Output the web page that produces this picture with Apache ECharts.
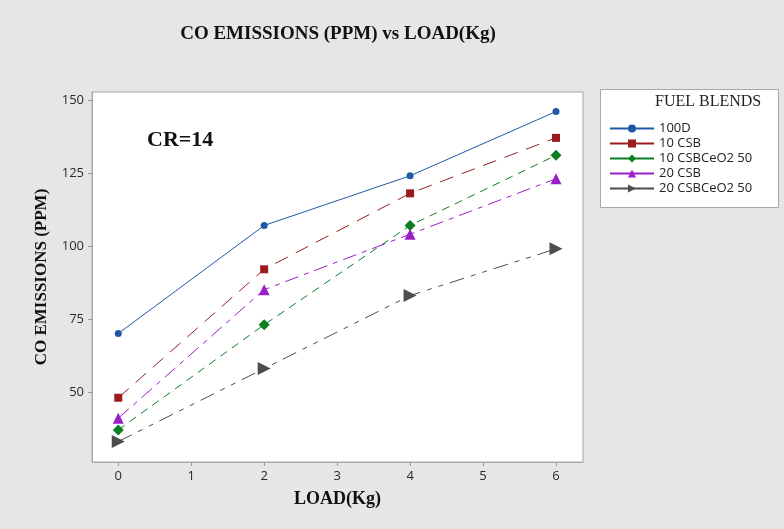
<!DOCTYPE html>
<html>
<head>
<meta charset="utf-8">
<script src="https://cdn.jsdelivr.net/npm/echarts@6/dist/echarts.min.js"></script>
<style>
  html, body { margin: 0; padding: 0; background: #e6e6e6; }
  #chart { width: 784px; height: 529px; }
</style>
</head>
<body>
<div id="chart"></div>
<script>
// Load in kg
const loads = [0, 2, 4, 6];
const xTicks = [0, 1, 2, 3, 4, 5, 6];
const yTicks = [50, 75, 100, 125, 150];

// CO emissions (PPM) per fuel blend
const seriesNames = ['100D', '10 CSB', '10 CSBCeO2 50', '20 CSB', '20 CSBCeO2 50'];
const co100D = [70, 107, 124, 146];
const co10CSB = [48, 92, 118, 137];
const co10CSBCeO2 = [37, 73, 107, 131];
const co20CSB = [41, 85, 104, 123];
const co20CSBCeO2 = [33, 58, 83, 99];

const serif = '"Liberation Serif", "DejaVu Serif", serif';
const sans = '"Open Sans", "Noto Sans", "DejaVu Sans", sans-serif';

function pairs(vals) { return loads.map((x, i) => [x, vals[i]]); }

const styles = [
  { color: '#1f5aa6', symbol: 'circle', size: 7, dash: 'solid', rot: 0 },
  { color: '#9b1c1c', symbol: 'rect', size: 8, dash: [14, 9], rot: 0 },
  { color: '#0c7f22', symbol: 'diamond', size: 11, dash: [8, 6], rot: 0 },
  { color: '#9b1fc8', symbol: 'triangle', size: 11, dash: [14, 6, 5, 6], rot: 0 },
  { color: '#4d4d4d', symbol: 'triangle', size: 13, dash: [15, 7, 5, 7, 5, 7], rot: -90 }
];
const values = [co100D, co10CSB, co10CSBCeO2, co20CSB, co20CSBCeO2];

const chart = echarts.init(document.getElementById('chart'), null, { renderer: 'canvas' });

const axisText = { fontFamily: sans, fontSize: 13, color: '#2a2a2a' };
const nameText = { fontFamily: serif, fontWeight: 'bold', color: '#111' };
const frameLine = { show: true, onZero: false, lineStyle: { color: '#a8a8a8', width: 1 } };

chart.setOption({
  backgroundColor: '#e6e6e6',
  animation: false,
  title: {
    text: 'CO EMISSIONS (PPM) vs LOAD(Kg)',
    left: 333, top: 20, textAlign: 'center',
    textStyle: Object.assign({ fontSize: 19 }, nameText)
  },
  grid: {
    left: 92, top: 92, right: 201, bottom: 67,
    show: true, backgroundColor: '#ffffff', borderColor: '#a8a8a8', borderWidth: 1
  },
  xAxis: {
    type: 'value', min: -0.36, max: 6.37,
    name: 'LOAD(Kg)', nameLocation: 'middle', nameGap: 28,
    nameTextStyle: Object.assign({ fontSize: 18 }, nameText),
    axisLine: frameLine,
    splitLine: { show: false },
    axisTick: { show: true, customValues: xTicks, length: 4, lineStyle: { color: '#999' } },
    axisLabel: Object.assign({ customValues: xTicks, margin: 8 }, axisText)
  },
  yAxis: {
    type: 'value', min: 26, max: 152.7,
    name: 'CO EMISSIONS (PPM)', nameLocation: 'middle', nameGap: 42, nameRotate: 90,
    nameTextStyle: Object.assign({ fontSize: 17 }, nameText),
    axisLine: frameLine,
    splitLine: { show: false },
    axisTick: { show: true, customValues: yTicks, length: 4, lineStyle: { color: '#999' } },
    axisLabel: Object.assign({ customValues: yTicks, margin: 8 }, axisText)
  },
  legend: {
    orient: 'vertical', left: 604, top: 117,
    itemWidth: 44, itemHeight: 10, itemGap: 2,
    lineStyle: { type: 'solid' },
    textStyle: { fontFamily: sans, fontSize: 13, lineHeight: 13, color: '#222' },
    data: seriesNames
  },
  graphic: [
    {
      type: 'rect', left: 600, top: 89, z: -1,
      shape: { width: 178, height: 118 },
      style: { fill: '#ffffff', stroke: '#a8a8a8', lineWidth: 1 }
    },
    {
      type: 'text', left: 655, top: 94,
      style: { text: 'FUEL BLENDS', font: '16px ' + serif, fill: '#222' }
    },
    {
      type: 'text', left: 147, top: 129,
      style: { text: 'CR=14', font: 'bold 22px ' + serif, fill: '#111' }
    }
  ],
  series: seriesNames.map((name, i) => ({
    name: name,
    type: 'line',
    data: pairs(values[i]),
    symbol: styles[i].symbol,
    symbolSize: styles[i].size,
    symbolRotate: styles[i].rot,
    itemStyle: { color: styles[i].color },
    lineStyle: { color: styles[i].color, width: 1, type: styles[i].dash }
  }))
});
</script>
</body>
</html>
